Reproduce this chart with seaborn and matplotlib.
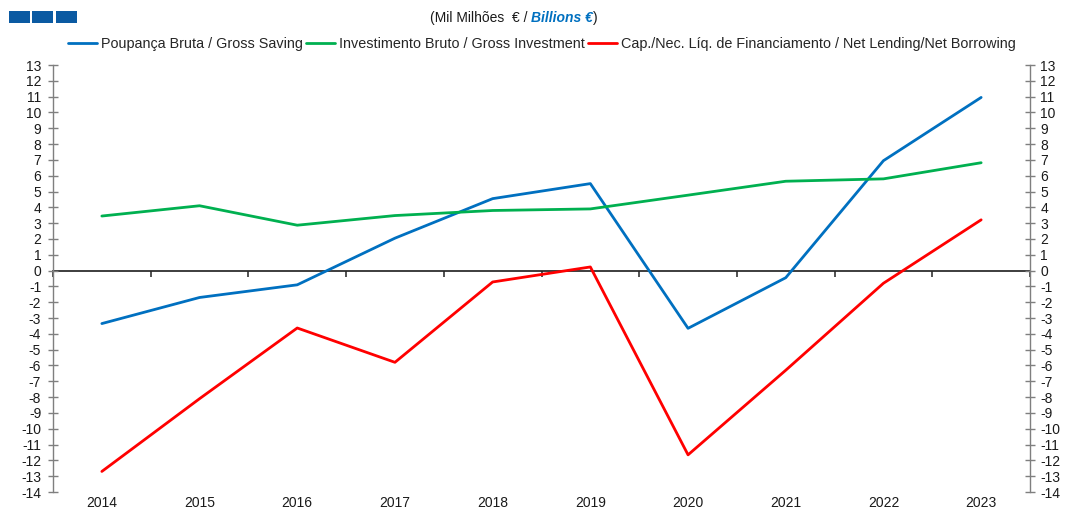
import matplotlib
matplotlib.use("Agg")
import matplotlib.pyplot as plt
from matplotlib.patches import Rectangle
from matplotlib.lines import Line2D
import numpy as np
import pandas as pd
import seaborn as sns

years = [2014, 2015, 2016, 2017, 2018, 2019, 2020, 2021, 2022, 2023]
gross_saving = [-3.35, -1.7, -0.9, 2.05, 4.55, 5.5, -3.65, -0.45, 6.95, 10.95]
gross_investment = [3.45, 4.1, 2.87, 3.48, 3.8, 3.9, 4.77, 5.65, 5.8, 6.82]
net_lending = [-12.7, -8.1, -3.63, -5.8, -0.72, 0.23, -11.65, -6.3, -0.8, 3.21]

series_names = [
    "Poupança Bruta / Gross Saving",
    "Investimento Bruto / Gross Investment",
    "Cap./Nec. Líq. de Financiamento / Net Lending/Net Borrowing",
]
colors = ["#0070C0", "#00B050", "#FF0000"]
y_ticks = list(range(-14, 14))

pos = np.arange(len(years))
df = pd.concat([
    pd.DataFrame({"pos": pos, "value": vals, "serie": name})
    for name, vals in zip(series_names, [gross_saving, gross_investment, net_lending])
])

sns.set_theme(style="white")
plt.rcParams["font.family"] = ["Liberation Sans", "DejaVu Sans"]

fig = plt.figure(figsize=(10.65, 5.11), dpi=100)
ax = fig.add_axes([53 / 1065, 1 - 492 / 511, (1030 - 53) / 1065, (492 - 65) / 511])

sns.lineplot(data=df, x="pos", y="value", hue="serie", palette=colors,
             hue_order=series_names, linewidth=2.0, ax=ax, legend=False)

ax.set_xlim(-0.5, len(years) - 0.5)
ax.set_ylim(-14, 13)
ax.set_yticks(y_ticks)
ax.set_yticklabels([str(t) for t in y_ticks])
ax.set_xticks(pos)
ax.set_xticklabels([str(y) for y in years])
ax.set_xlabel("")
ax.set_ylabel("")

spine_col = "#7f7f7f"
for s in ["top", "bottom", "right"]:
    ax.spines[s].set_visible(False)
ax.spines["left"].set_color(spine_col)
ax.spines["left"].set_linewidth(1.0)
ax.tick_params(axis="y", direction="inout", length=7, width=1.0, color=spine_col,
               labelsize=10, labelcolor="#1a1a1a", pad=5, left=True)
ax.tick_params(axis="x", length=0, labelsize=10, labelcolor="#1a1a1a", pad=3)

# right-hand duplicate scale
ax2 = ax.twinx()
ax2.set_ylim(ax.get_ylim())
ax2.set_yticks(y_ticks)
ax2.set_yticklabels([str(t) for t in y_ticks])
for s in ["top", "bottom", "left"]:
    ax2.spines[s].set_visible(False)
ax2.spines["right"].set_color(spine_col)
ax2.spines["right"].set_linewidth(1.0)
ax2.tick_params(axis="y", direction="inout", length=7, width=1.0, color=spine_col,
                labelsize=10, labelcolor="#1a1a1a", pad=4, right=True)
ax2.grid(False)

# category axis crossing at zero, ticks between categories pointing down
zero_frac = (0 - (-14)) / (13 - (-14))
sec = ax.secondary_xaxis(zero_frac)
sec.spines["bottom"].set_color("#000000")
sec.spines["bottom"].set_linewidth(1.2)
bounds = np.arange(-0.5, len(years) - 0.4, 1.0)
sec.set_xticks(bounds, labels=[""] * len(bounds))
sec.tick_params(axis="x", direction="in", length=4, width=1.2, color="#333333")
ax.grid(False)

# legend
handles = [Line2D([], [], color=c, linewidth=2.0) for c in colors]
fig.legend(handles, series_names, loc="center", bbox_to_anchor=(542 / 1065, 1 - 44 / 511),
           ncol=3, frameon=False, fontsize=10.4, handlelength=2.0, handletextpad=0.25,
           columnspacing=0.25, borderaxespad=0, borderpad=0)

# header: unit caption
t1 = fig.text(430 / 1065, 1 - 18 / 511, "(Mil Milhões  € / ", fontsize=10,
              color="#1a1a1a", ha="left", va="center")
t2 = ax.annotate("Billions €", xy=(1, 0), xycoords=t1, va="bottom", ha="left",
                 fontsize=10, color="#0070C0", fontweight="bold", fontstyle="italic")
ax.annotate(")", xy=(1, 0), xycoords=t2, va="bottom", ha="left",
            fontsize=10, color="#1a1a1a")

# header: blue blocks
for x0 in [9, 32, 56]:
    fig.patches.append(Rectangle((x0 / 1065, 1 - 23 / 511), 21 / 1065, 12 / 511,
                                 transform=fig.transFigure, facecolor="#0B5AA2",
                                 edgecolor="none", antialiased=False, zorder=5))

fig.savefig("out.png", dpi=100)
